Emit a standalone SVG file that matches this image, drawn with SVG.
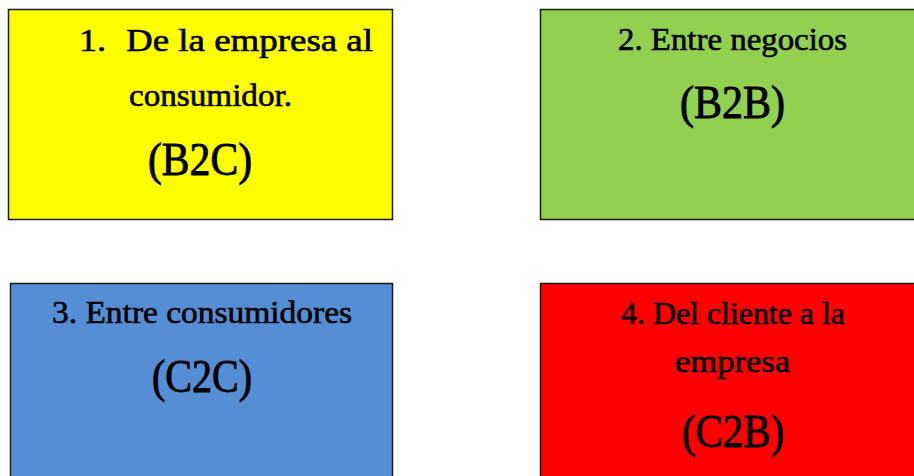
<svg xmlns="http://www.w3.org/2000/svg" width="914" height="476" viewBox="0 0 914 476">
<style>
.box{stroke:#1a1a1a;stroke-width:1.5}
.t{font-family:"Liberation Serif","DejaVu Serif",serif;font-size:31px;fill:#000;stroke:#000;stroke-width:0.6}
.b{font-family:"Liberation Serif","DejaVu Serif",serif;font-size:46px;fill:#000;stroke:#000;stroke-width:0.9}
</style>
<rect width="914" height="476" fill="#fff"/>
<g id="connectors"/>
<g id="b2c">
<rect class="box" x="8.5" y="9.5" width="384" height="210" fill="#ffff00"/>
<text class="t" x="79" y="51" textLength="27" lengthAdjust="spacingAndGlyphs">1.</text>
<text class="t" x="126" y="51" textLength="247" lengthAdjust="spacingAndGlyphs">De la empresa al</text>
<text class="t" x="129" y="106" textLength="163" lengthAdjust="spacingAndGlyphs">consumidor.</text>
<text class="b" x="148" y="175" textLength="104" lengthAdjust="spacingAndGlyphs">(B2C)</text>
</g>
<g id="b2b">
<rect class="box" x="540.5" y="9.5" width="380" height="210" fill="#92d050"/>
<text class="t" x="618" y="50" textLength="229" lengthAdjust="spacingAndGlyphs">2. Entre negocios</text>
<text class="b" x="680" y="118" textLength="105" lengthAdjust="spacingAndGlyphs">(B2B)</text>
</g>
<g id="c2c">
<rect class="box" x="10.5" y="283.5" width="382" height="200" fill="#558ed5"/>
<text class="t" x="52" y="323" textLength="300" lengthAdjust="spacingAndGlyphs">3. Entre consumidores</text>
<text class="b" x="152" y="392" textLength="100" lengthAdjust="spacingAndGlyphs">(C2C)</text>
</g>
<g id="c2b">
<rect class="box" x="540.5" y="283.5" width="380" height="200" fill="#ff0000"/>
<text class="t" x="621" y="324" textLength="224" lengthAdjust="spacingAndGlyphs">4. Del cliente a la</text>
<text class="t" x="675" y="372" textLength="115" lengthAdjust="spacingAndGlyphs">empresa</text>
<text class="b" x="682" y="447" textLength="102" lengthAdjust="spacingAndGlyphs">(C2B)</text>
</g>
</svg>
